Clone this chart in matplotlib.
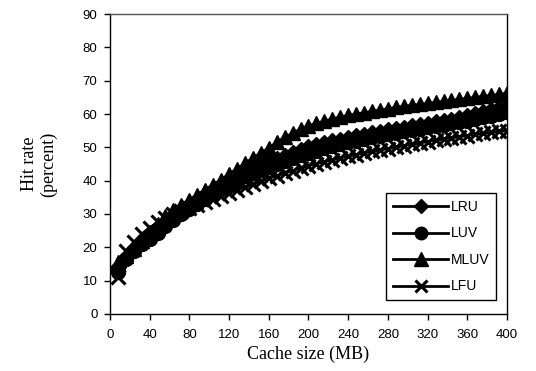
import matplotlib
matplotlib.use("Agg")
import matplotlib.pyplot as plt

# cache sizes (MB), one point every 8 MB
cache_mb = list(range(8, 401, 8))

lru = [14, 17, 19.5, 21.5, 23.5, 25.5, 27.5, 29.3, 31, 32.5,
       34, 35.5, 37, 38.5, 40, 41.2, 42.4, 43.5, 44.6, 45.6,
       46.6, 47.5, 48.4, 49.2, 50, 50.6, 51.2, 51.8, 52.3, 52.8,
       53.3, 53.8, 54.3, 54.7, 55.1, 55.5, 55.9, 56.3, 56.7, 57.1,
       57.5, 57.9, 58.3, 58.8, 59.3, 59.9, 60.5, 61.1, 61.7, 62.4]

luv = [12.5, 16.5, 19, 21, 22.5, 24.3, 26.5, 28.3, 30, 31.5,
       33, 34.5, 36, 37.5, 39, 40.2, 41.3, 42.3, 43.3, 44.2,
       45.1, 46, 46.8, 47.6, 48.3, 49, 49.7, 50.3, 50.9, 51.5,
       52, 52.5, 53, 53.5, 54, 54.4, 54.8, 55.2, 55.6, 56,
       56.4, 56.8, 57.2, 57.6, 58, 58.5, 59, 59.5, 60, 60.6]

mluv = [15.5, 17.5, 19.5, 22, 24.5, 27, 29.5, 31.2, 32.8, 34.3,
        35.8, 37.3, 38.8, 40.3, 42, 43.5, 45.2, 46.8, 48.3, 49.8,
        51.5, 53, 54.2, 55.5, 56.5, 57.2, 57.9, 58.5, 59.1, 59.6,
        60, 60.4, 60.8, 61.2, 61.6, 62, 62.3, 62.6, 62.9, 63.2,
        63.5, 63.8, 64.1, 64.4, 64.7, 65, 65.3, 65.6, 65.9, 66.2]

lfu = [11, 19, 21.5, 24, 25.8, 27.5, 28.8, 30, 30.8, 31.7,
       32.6, 33.5, 34.5, 35.5, 36.3, 37.2, 38, 38.9, 39.8, 40.7,
       41.5, 42.3, 43, 43.8, 44.5, 45.1, 45.7, 46.2, 46.8, 47.3,
       47.8, 48.3, 48.8, 49.2, 49.6, 50, 50.5, 50.9, 51.3, 51.7,
       52.1, 52.5, 52.8, 53.2, 53.5, 53.9, 54.2, 54.5, 54.8, 55]

series = [("LRU", lru, "D", 8), ("LUV", luv, "o", 10),
          ("MLUV", mluv, "^", 10.5), ("LFU", lfu, "x", 9.5)]

fig = plt.figure(figsize=(5.36, 3.71), dpi=100)
ax = fig.add_axes([0.205, 0.154, 0.741, 0.808])

for name, vals, mk, ms in series:
    ax.plot(cache_mb, vals, color="black", lw=2, marker=mk, ms=ms,
            mew=2.2 if mk == "x" else 1, label=name)

ax.set_xlim(0, 400)
ax.set_ylim(0, 90)
ax.set_xticks(range(0, 401, 40))
ax.set_yticks(range(0, 91, 10))
ax.tick_params(direction="out", length=4, width=1, labelsize=9.5)
ax.tick_params(axis="x", pad=7)
ax.tick_params(axis="y", pad=5)
for lab in ax.get_xticklabels() + ax.get_yticklabels():
    lab.set_family("Liberation Sans")
for s in ax.spines.values():
    s.set_linewidth(1)
ax.spines["top"].set_color("#555555")

ax.set_xlabel("Cache size (MB)", family="Liberation Serif", fontsize=13, labelpad=3)
ax.set_ylabel("Hit rate\n(percent)", family="Liberation Serif", fontsize=13,
              labelpad=18, linespacing=1.2)

leg = ax.legend(loc="lower right", bbox_to_anchor=(0.99, 0.022),
                prop={"family": "Liberation Sans", "size": 10},
                handlelength=4.0, handletextpad=0.15, labelspacing=0.9,
                borderpad=0.5, fancybox=False, framealpha=1, markerscale=0.9)
leg.get_frame().set_edgecolor("black")
leg.get_frame().set_linewidth(1)

fig.savefig("out.png", dpi=100)
